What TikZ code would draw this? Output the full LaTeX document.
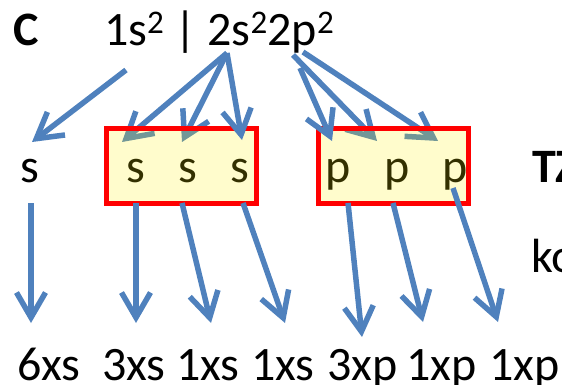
\documentclass[tikz,border=0pt]{standalone}
\usepackage{fontspec}
\setmainfont{Carlito}
\usetikzlibrary{arrows.meta}
\definecolor{arrowblue}{RGB}{79,129,189}
\definecolor{boxred}{RGB}{255,0,0}
\newcommand\supnum[1]{\raisebox{12pt}{\fontsize{33}{33}\selectfont #1}}
\begin{document}
\begin{tikzpicture}[x=1pt,y=-1pt,
  txt/.style={inner sep=0pt, outer sep=0pt, font=\fontsize{48}{58}\selectfont},
  boldtxt/.style={txt, font=\fontsize{48}{58}\selectfont\bfseries},
  boxtxt/.style={txt, anchor=base},
  lbl/.style={txt, anchor=base west},
  conn/.style={draw=arrowblue, line width=5.5pt, -{Straight Barb[length=25pt,width=29pt]}},
  orbbox/.style={draw=boxred, line width=5pt, fill=yellow, fill opacity=0.2,
    minimum width=150pt, minimum height=75pt, inner sep=0pt, outer sep=0pt}]
\useasboundingbox (0,0) rectangle (562,385);
% top line
\node[boldtxt, anchor=base west] (C) at (13,46) {C};
\node[lbl] (conf) at (104,46) {1s\supnum{2} | 2s\supnum{2}2p\supnum{2}};
% middle letters
\node[boxtxt] (s0) at (29.5,182) {s};
\node[boxtxt] (s1) at (135.5,182) {s};
\node[boxtxt] (s2) at (187.5,182) {s};
\node[boxtxt] (s3) at (239.5,182) {s};
\node[boxtxt] (p1) at (338,182) {p};
\node[boxtxt] (p2) at (397,182) {p};
\node[boxtxt] (p3) at (455,182) {p};
\node[boldtxt, anchor=base west] (TZ) at (532,182) {TZ};
\node[lbl] (ko) at (531.5,272) {ko};
% bottom labels
\node[lbl] (l1) at (17,380) {6xs};
\node[lbl] (l2) at (102,380) {3xs};
\node[lbl] (l3) at (176,380) {1xs};
\node[lbl] (l4) at (251,380) {1xs};
\node[lbl] (l5) at (327,380) {3xp};
\node[lbl] (l6) at (406,380) {1xp};
\node[lbl] (l7) at (489,380) {1xp};
% connector ends
\coordinate (o1s) at (126,70);
\coordinate (o2s) at (227,53);
\coordinate (o2pa) at (300,68);
\coordinate (o2pb) at (293,55);
\coordinate (o2pc) at (303,52);
\coordinate (h0) at (32,142);
\coordinate (h1) at (122,142);
\coordinate (h2) at (182,142);
\coordinate (h3) at (242,140);
\coordinate (h4) at (332,141);
\coordinate (h5) at (377,141);
\coordinate (h6) at (438,141);
\coordinate (b0) at (31,203);
\coordinate (b1) at (136,203);
\coordinate (b2) at (182,203);
\coordinate (b3) at (243,203);
\coordinate (b4) at (348,203);
\coordinate (b5) at (393,203);
\coordinate (b6) at (453,188);
\coordinate (e0) at (31,323);
\coordinate (e1) at (136,323);
\coordinate (e2) at (211,323);
\coordinate (e3) at (285,323);
\coordinate (e4) at (362,337);
\coordinate (e5) at (423,322);
\coordinate (e6) at (498,322);
% arrows below the boxes
\draw[conn] (o1s) -- (h0);
\draw[conn] (o2s) -- (h1);
\draw[conn] (o2s) -- (h2);
\draw[conn] (o2pb) -- (h5);
\draw[conn] (o2pc) -- (h6);
% boxes
\node[orbbox] (box1) at (181.5,166) {};
\node[orbbox] (box2) at (393.5,166) {};
% arrows above the boxes
\draw[conn] (o2s) -- (h3);
\draw[conn] (o2pa) -- (h4);
\draw[conn] (b0) -- (e0);
\draw[conn] (b1) -- (e1);
\draw[conn] (b2) -- (e2);
\draw[conn] (b3) -- (e3);
\draw[conn] (b4) -- (e4);
\draw[conn] (b5) -- (e5);
\draw[conn] (b6) -- (e6);
\end{tikzpicture}
\end{document}
